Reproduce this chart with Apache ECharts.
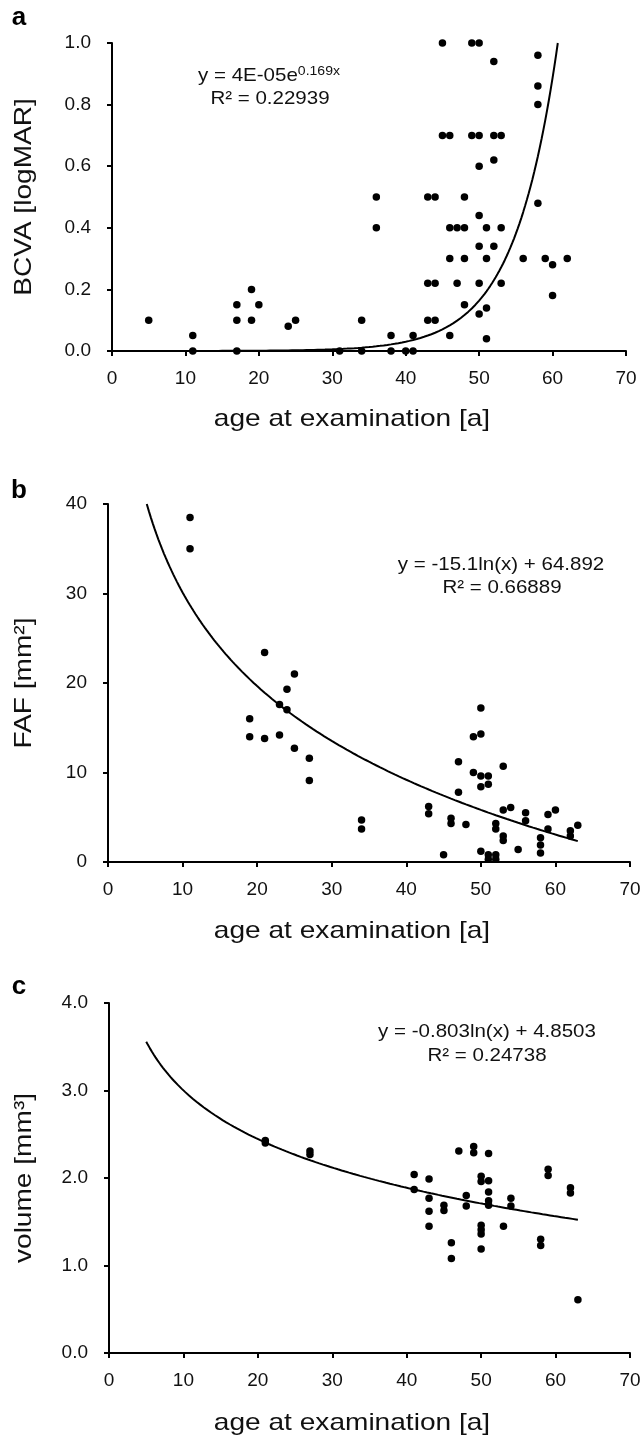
<!DOCTYPE html>
<html>
<head>
<meta charset="utf-8">
<script src="https://cdn.jsdelivr.net/npm/echarts@6/dist/echarts.min.js"></script>
<style>
html,body{margin:0;padding:0;background:#fff;}
#c{width:644px;height:1435px;}
</style>
</head>
<body>
<div id="c"></div>
<script>
// ---- Panel a: BCVA vs age ----
const ageA  = [5,11,11,17,17,17,19,19,20,24,25,31,34,34,36,36,38,38,40,41,41,
  43,44,43,44,43,44,45,45,46,46,46,46,47,47,48,48,48,48,49,49,
  50,50,50,50,50,50,50,51,51,51,51,52,52,52,52,53,53,53,56,58,58,58,58,59,60,60,62];
const bcvaA = [0.1,0.05,0,0.15,0.1,0,0.2,0.1,0.15,0.08,0.1,0,0.1,0,0.5,0.4,0.05,0,0,0,0.05,
  0.5,0.5,0.22,0.22,0.1,0.1,1.0,0.7,0.7,0.4,0.3,0.05,0.4,0.22,0.5,0.4,0.3,0.15,1.0,0.7,
  1.0,0.7,0.6,0.44,0.34,0.22,0.12,0.4,0.3,0.14,0.04,0.94,0.7,0.62,0.34,0.7,0.4,0.22,0.3,0.96,0.86,0.8,0.48,0.3,0.28,0.18,0.3];
const fitA = {a: 3.5e-5, b: 0.169, xMin: 5, xMax: 62, yMax: 1.0};

// ---- Panel b: FAF vs age ----
const ageB = [11,11,19,19,21,21,23,23,24,24,25,25,27,27,34,34,
  43,43,45,46,46,47,47,48,49,49,50,50,50,50,50,51,51,51,51,52,52,52,52,53,53,53,53,54,55,56,56,58,58,58,59,59,60,62,62,63];
const fafB = [38.5,35,16,14,23.4,13.8,17.6,14.2,19.3,17,21,12.7,11.6,9.1,4.7,3.7,
  6.2,5.4,0.8,4.9,4.3,11.2,7.8,4.2,14,10,17.2,14.3,9.6,8.4,1.2,9.6,8.7,0.8,0.3,0.8,0.3,4.3,3.7,10.7,5.8,2.9,2.4,6.1,1.4,5.5,4.6,2.7,1.9,1.0,5.3,3.7,5.8,3.5,2.9,4.1];
const fitB = {k: -15.1, c: 64.892, xMin: 5, xMax: 63, yMax: 40};

// ---- Panel c: volume vs age ----
const ageC = [21,21,27,27,41,41,43,43,43,43,45,45,46,46,47,48,48,49,49,50,50,50,50,50,50,
  51,51,51,51,51,53,54,54,58,58,59,59,62,62,63];
const volC = [2.43,2.40,2.31,2.27,2.04,1.87,1.99,1.77,1.62,1.45,1.69,1.63,1.26,1.08,2.31,1.8,1.68,2.36,2.29,2.02,1.96,1.46,1.41,1.36,1.19,
  2.28,1.97,1.84,1.74,1.69,1.45,1.77,1.68,1.3,1.23,2.1,2.03,1.89,1.83,0.61];
const fitC = {k: -0.803, c: 4.8503, xMin: 5, xMax: 63, yMax: 4};

const xTicks = [0,10,20,30,40,50,60,70];
const yTicksA = ['0.0','0.2','0.4','0.6','0.8','1.0'];
const yTicksB = ['0','10','20','30','40'];
const yTicksC = ['0.0','1.0','2.0','3.0','4.0'];

function zip(xs, ys){ return xs.map((x,i)=>[x, ys[i]]); }
function expCurve(f){
  const pts=[]; const xEnd = Math.min(f.xMax, Math.log(f.yMax/f.a)/f.b);
  for(let x=f.xMin; x<xEnd; x+=0.25) pts.push([x, f.a*Math.exp(f.b*x)]);
  pts.push([xEnd, f.a*Math.exp(f.b*xEnd)]);
  return pts;
}
function logCurve(f){
  const pts=[]; const xStart = Math.max(f.xMin, Math.exp((f.yMax - f.c)/f.k));
  pts.push([xStart, f.k*Math.log(xStart)+f.c]);
  for(let x=Math.ceil(xStart*4)/4; x<=f.xMax; x+=0.25) pts.push([x, f.k*Math.log(x)+f.c]);
  return pts;
}

const FONT = 'Liberation Sans, Arial, sans-serif';
const TXT = '#111';
const axisLine = {show:true, onZero:false, lineStyle:{color:'#000', width:2}};
const axisTick = {show:true, inside:false, length:5, lineStyle:{color:'#000', width:2}};

function xAxis(gi){
  return {type:'value', gridIndex:gi, min:0, max:70, interval:10,
    axisLine, axisTick, splitLine:{show:false},
    axisLabel:{color:TXT, fontSize:19, fontFamily:FONT, margin:18,
      formatter:v=>String(xTicks[xTicks.indexOf(v)])}};
}
function yAxis(gi, max, interval, labels){
  return {type:'value', gridIndex:gi, min:0, max, interval,
    axisLine, axisTick, splitLine:{show:false},
    axisLabel:{color:TXT, fontSize:19, fontFamily:FONT, margin:21,
      formatter:v=>labels[Math.round(v/interval)]}};
}
function scatter(gi, data){
  return {type:'scatter', xAxisIndex:gi, yAxisIndex:gi, data, symbol:'circle', symbolSize:7.5,
    itemStyle:{color:'#000', opacity:1}, silent:true, z:3};
}
function line(gi, data){
  return {type:'line', xAxisIndex:gi, yAxisIndex:gi, data, showSymbol:false, smooth:false,
    lineStyle:{color:'#000', width:2}, silent:true, clip:true, z:2};
}

function txt(x, y, text, size, opts){
  opts = opts || {};
  return Object.assign({type:'text', x, y, style:Object.assign({text, fill:TXT, font:`${size}px ${FONT}`,
    textAlign:'center', textVerticalAlign:'middle'}, opts.style||{})}, opts.el||{});
}
function rich(x, y, text, richDef, el){
  return Object.assign({type:'text', x, y, style:{text, rich:richDef, fill:TXT, font:`19px ${FONT}`, textAlign:'center', textVerticalAlign:'middle'}}, el||{});
}
const rStyle = {
  n:{fontSize:19, fontFamily:FONT, color:TXT, lineHeight:22},
  s:{fontSize:13, fontFamily:FONT, color:TXT, verticalAlign:'top', lineHeight:22, padding:[0,0,9,0]}
};
const EQ = {scaleX:1.08};
const TITLE = {scaleX:1.17};
const TITLE_R = {scaleX:1.17, rotation:Math.PI/2};
const LETTER = {style:{font:`bold 26px ${FONT}`, fill:'#000'}};

const option = {
  backgroundColor:'#fff',
  animation:false,
  grid:[
    {left:112, top:43, width:514, height:308},
    {left:108, top:504, width:522, height:358},
    {left:109, top:1003, width:521, height:350}
  ],
  xAxis:[xAxis(0), xAxis(1), xAxis(2)],
  yAxis:[yAxis(0,1.0,0.2,yTicksA), yAxis(1,40,10,yTicksB), yAxis(2,4,1,yTicksC)],
  series:[
    line(0, expCurve(fitA)), scatter(0, zip(ageA, bcvaA)),
    line(1, logCurve(fitB)), scatter(1, zip(ageB, fafB)),
    line(2, logCurve(fitC)), scatter(2, zip(ageC, volC))
  ],
  graphic:[
    txt(19, 18, 'a', 26, LETTER),
    txt(19, 491, 'b', 26, LETTER),
    txt(19, 987, 'c', 26, LETTER),
    txt(24, 197, 'BCVA [logMAR]', 24, {el:TITLE_R}),
    txt(24, 683, 'FAF [mm²]', 24, {el:TITLE_R}),
    txt(24, 1178, 'volume [mm³]', 24, {el:TITLE_R}),
    txt(352, 419, 'age at examination [a]', 24, {el:TITLE}),
    txt(352, 931, 'age at examination [a]', 24, {el:TITLE}),
    txt(352, 1423, 'age at examination [a]', 24, {el:TITLE}),
    rich(269, 76, '{n|y = 4E-05e}{s|0.169x}', rStyle, EQ),
    txt(270, 99, 'R² = 0.22939', 19, {el:EQ}),
    rich(501, 565, '{n|y = -15.1ln(x) + 64.892}', rStyle, EQ),
    txt(502, 588, 'R² = 0.66889', 19, {el:EQ}),
    rich(487, 1032, '{n|y = -0.803ln(x) + 4.8503}', rStyle, EQ),
    txt(487, 1056, 'R² = 0.24738', 19, {el:EQ})
  ]
};
const chart = echarts.init(document.getElementById('c'), null, {renderer:'canvas'});
chart.setOption(option);
</script>
</body>
</html>
